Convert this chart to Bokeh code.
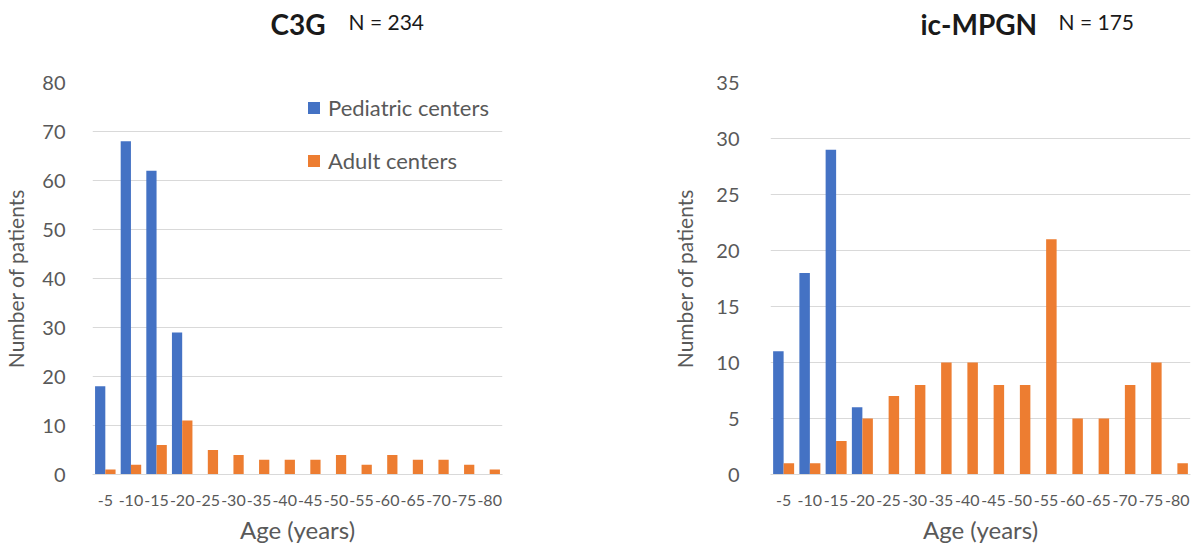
from bokeh.plotting import figure
from bokeh.models import (FactorRange, Range1d, FixedTicker, Legend, LegendItem,
                          Label, ColumnDataSource)
from bokeh.transform import dodge
from bokeh.layouts import row, column
from bokeh.embed import file_html
from bokeh.resources import INLINE

# ---------------- data ----------------
age_groups = ["-5", "-10", "-15", "-20", "-25", "-30", "-35", "-40",
              "-45", "-50", "-55", "-60", "-65", "-70", "-75", "-80"]

c3g_pediatric = [18, 68, 62, 29, 0, 0, 0, 0, 0, 0, 0, 0, 0, 0, 0, 0]
c3g_adult = [1, 2, 6, 11, 5, 4, 3, 3, 3, 4, 2, 4, 3, 3, 2, 1]

mpgn_pediatric = [11, 18, 29, 6, 0, 0, 0, 0, 0, 0, 0, 0, 0, 0, 0, 0]
mpgn_adult = [1, 1, 3, 5, 7, 8, 10, 10, 8, 8, 21, 5, 5, 8, 10, 1]

series_names = ["Pediatric centers", "Adult centers"]
c3g_title, c3g_n = "C3G", "N = 234"
mpgn_title, mpgn_n = "ic-MPGN", "N = 175"
y_label = "Number of patients"
x_label = "Age (years)"

# ---------------- style ----------------
FONT = "Lato"
TXT = "#595959"
BLUE = "#4472C4"
ORANGE = "#ED7D31"
GRID = "#d9d9d9"
TITLE_H = 66
MAIN_H = 480


def make_title(width, title, n_text, title_x, n_x):
    t = figure(width=width, height=TITLE_H, x_range=Range1d(0, width),
               y_range=Range1d(0, TITLE_H), output_backend="svg",
               toolbar_location=None, x_axis_location=None, y_axis_location=None,
               min_border=0)
    t.outline_line_color = None
    t.grid.visible = False
    t.add_layout(Label(x=title_x, y=43, text=title, text_font=FONT,
                       text_font_style="bold", text_font_size="28px",
                       text_color="#1a1a1a", text_baseline="middle",
                       text_align="left"))
    t.add_layout(Label(x=n_x, y=45, text=n_text, text_font=FONT,
                       text_font_size="21px", text_color="#1a1a1a",
                       text_baseline="middle", text_align="left"))
    return t


def make_panel(ped, adult, y_max, y_step, width, b_left, b_right,
               ylab_standoff, tick_standoff, show_legend):
    src = ColumnDataSource(dict(age=age_groups, ped=ped, adult=adult))
    p = figure(x_range=FactorRange(factors=age_groups, range_padding=0),
               y_range=Range1d(0, y_max),
               width=width, height=MAIN_H, output_backend="svg",
               toolbar_location=None,
               min_border_left=b_left, min_border_right=b_right,
               min_border_top=16, min_border_bottom=71)
    p.outline_line_color = None
    p.background_fill_color = "white"
    p.border_fill_color = "white"

    r1 = p.vbar(x=dodge("age", -0.2, range=p.x_range), top="ped", width=0.4,
                source=src, fill_color=BLUE, line_color=None)
    r2 = p.vbar(x=dodge("age", 0.2, range=p.x_range), top="adult", width=0.4,
                source=src, fill_color=ORANGE, line_color=None)

    p.xgrid.grid_line_color = None
    p.ygrid.grid_line_color = GRID
    p.ygrid.grid_line_width = 1

    p.yaxis.ticker = FixedTicker(ticks=list(range(0, y_max + 1, y_step)))
    p.yaxis.axis_line_color = None
    p.yaxis.major_tick_line_color = None
    p.yaxis.minor_tick_line_color = None
    p.yaxis.major_label_text_font = FONT
    p.yaxis.major_label_text_font_size = "20px"
    p.yaxis.major_label_text_color = TXT
    p.yaxis.major_label_standoff = tick_standoff
    p.yaxis.axis_label = y_label
    p.yaxis.axis_label_text_font = FONT
    p.yaxis.axis_label_text_font_size = "21px"
    p.yaxis.axis_label_text_font_style = "normal"
    p.yaxis.axis_label_text_color = TXT
    p.yaxis.axis_label_standoff = ylab_standoff

    p.xaxis.axis_line_color = GRID
    p.xaxis.major_tick_line_color = None
    p.xaxis.minor_tick_line_color = None
    p.xaxis.major_label_text_font = FONT
    p.xaxis.major_label_text_font_size = "16px"
    p.xaxis.major_label_text_color = TXT
    p.xaxis.major_label_standoff = 14
    p.xaxis.axis_label = x_label
    p.xaxis.axis_label_text_font = FONT
    p.xaxis.axis_label_text_font_size = "24px"
    p.xaxis.axis_label_text_font_style = "normal"
    p.xaxis.axis_label_text_color = TXT
    p.xaxis.axis_label_standoff = 6

    if show_legend:
        leg = Legend(items=[LegendItem(label=series_names[0], renderers=[r1]),
                            LegendItem(label=series_names[1], renderers=[r2])],
                     location=(214, 300), padding=0, margin=0, spacing=26,
                     glyph_width=15, glyph_height=15, label_standoff=7,
                     label_text_font=FONT, label_text_font_size="22px",
                     label_text_color=TXT, label_height=26,
                     border_line_color=None, background_fill_alpha=0)
        p.add_layout(leg)
    return p


W_LEFT, W_RIGHT = 570, 624

t_left = make_title(W_LEFT, c3g_title, c3g_n, 270, 348)
t_right = make_title(W_RIGHT, mpgn_title, mpgn_n, 350, 488)

left = make_panel(c3g_pediatric, c3g_adult, 80, 10, width=W_LEFT,
                  b_left=86, b_right=68, ylab_standoff=11, tick_standoff=21,
                  show_legend=True)
right = make_panel(mpgn_pediatric, mpgn_adult, 35, 5, width=W_RIGHT,
                   b_left=200, b_right=4, ylab_standoff=16, tick_standoff=25,
                   show_legend=False)

layout = column(row(t_left, t_right), row(left, right))
open("out.html", "w").write(file_html(layout, INLINE))
